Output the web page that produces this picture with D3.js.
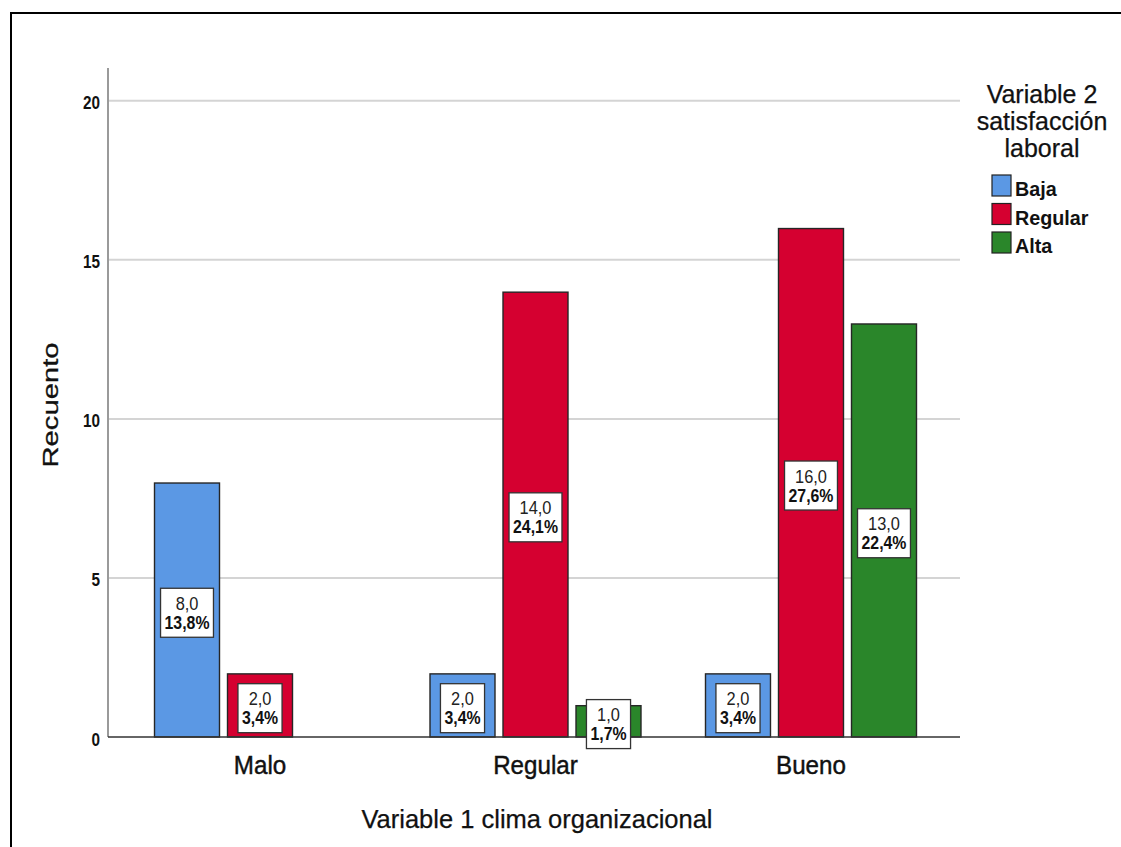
<!DOCTYPE html>
<html><head><meta charset="utf-8">
<script src="https://cdn.jsdelivr.net/npm/d3@7"></script>
<style>
body{margin:0;background:#fff;}
svg{display:block;}
text{font-family:"Liberation Sans",Arial,sans-serif;}
</style></head>
<body>
<svg id="c" width="1121" height="847"></svg>
<script>
const categories = ["Malo","Regular","Bueno"];
const series = ["Baja","Regular","Alta"];
const countsBaja    = [8, 2, 2];
const countsRegular = [2, 14, 16];
const countsAlta    = [0, 1, 13];
const pctBaja    = ["13,8%","3,4%","3,4%"];
const pctRegular = ["3,4%","24,1%","27,6%"];
const pctAlta    = ["","1,7%","22,4%"];
const yTicks = [0,5,10,15,20];
const colors = ["#5b98e4","#d50030","#2a862a"];
const legendTitle = ["Variable 2","satisfacción","laboral"];
const xTitle = "Variable 1 clima organizacional";
const yTitle = "Recuento";

const counts = {Baja:countsBaja, Regular:countsRegular, Alta:countsAlta};
const percents = {Baja:pctBaja, Regular:pctRegular, Alta:pctAlta};

// compress text horizontally by a factor
function squeeze(sel, f){
  sel.each(function(){
    const w = this.getComputedTextLength();
    d3.select(this).attr("textLength", w*f).attr("lengthAdjust","spacingAndGlyphs");
  });
}

const svg = d3.select("#c");
// outer frame
svg.append("rect").attr("x",11).attr("y",13).attr("width",1200).attr("height",1000)
  .attr("fill","none").attr("stroke","#000").attr("stroke-width",2);

const plotL = 108, plotR = 960;
const x0 = d3.scaleBand().domain(categories).range([plotL,963]).paddingInner(0.2305).paddingOuter(0.167);
const x1 = d3.scaleBand().domain(series).range([0,x0.bandwidth()]).paddingInner(0.096);
const y = d3.scaleLinear().domain([0,21]).range([737,69]);
const color = d3.scaleOrdinal().domain(series).range(colors);

// gridlines
svg.append("g").selectAll("line").data(yTicks.filter(d=>d>0)).join("line")
  .attr("x1",plotL).attr("x2",plotR).attr("y1",d=>y(d)).attr("y2",d=>y(d))
  .attr("stroke","#d4d4d4").attr("stroke-width",2);

// y axis
const yAxis = svg.append("g").attr("transform",`translate(${plotL},0)`)
  .call(d3.axisLeft(y).tickValues(yTicks).tickSize(0).tickPadding(8).tickFormat(d3.format("d")));
yAxis.select(".domain").remove();
yAxis.selectAll("text").attr("font-size",18).attr("font-weight","bold").attr("fill","#111")
  .attr("dy",null).attr("y",8);
squeeze(yAxis.selectAll("text"),0.85);
svg.append("line").attr("x1",plotL).attr("x2",plotL).attr("y1",68).attr("y2",737).attr("stroke","#9a9a9a").attr("stroke-width",2);

// bars
const data = [];
categories.forEach((c,i)=>series.forEach(s=>{
  data.push({cat:c,ser:s,v:counts[s][i],p:percents[s][i]});
}));
const bars = data.filter(d=>d.v>0);
svg.append("g").selectAll("rect").data(bars).join("rect")
  .attr("x",d=>x0(d.cat)+x1(d.ser)+0.5).attr("y",d=>y(d.v)+0.5)
  .attr("width",x1.bandwidth()-1).attr("height",d=>y(0)-y(d.v)-0.5)
  .attr("fill",d=>color(d.ser)).attr("stroke","#262626").attr("stroke-width",1.4);

// baseline
svg.append("line").attr("x1",plotL).attr("x2",plotR).attr("y1",y(0)).attr("y2",y(0)).attr("stroke","#333").attr("stroke-width",1.5);

// x axis labels
const xAxis = svg.append("g").attr("transform",`translate(0,${y(0)})`)
  .call(d3.axisBottom(x0).tickSize(0).tickPadding(0));
xAxis.select(".domain").remove();
xAxis.selectAll("text").attr("font-size",26).attr("fill","#111").attr("dy",null).attr("y",37)
  .attr("stroke","#111").attr("stroke-width",0.45);
squeeze(xAxis.selectAll("text"),0.93);

// value labels
const lab = svg.append("g").selectAll("g").data(bars).join("g")
  .attr("transform",d=>`translate(${x0(d.cat)+x1(d.ser)+x1.bandwidth()/2},${(y(d.v)+y(0))/2+3})`);
lab.each(function(d){
  const g = d3.select(this);
  const t1 = g.append("text").attr("text-anchor","middle").attr("y",-3)
    .attr("font-size",18).attr("fill","#222").text(d3.format(".1f")(d.v).replace(".",","));
  const t2 = g.append("text").attr("text-anchor","middle").attr("y",16)
    .attr("font-size",18).attr("font-weight","bold").attr("fill","#111").text(d.p);
  const w1 = t1.node().getComputedTextLength()*0.91, w2 = t2.node().getComputedTextLength()*0.88;
  squeeze(t1,0.91); squeeze(t2,0.88);
  const w = Math.max(w1, w2) + 8;
  g.insert("rect","text").attr("x",-w/2).attr("y",-24.5).attr("width",w).attr("height",49)
    .attr("fill","#fff").attr("stroke","#333").attr("stroke-width",1.3);
});

// axis titles
svg.append("text").attr("transform","translate(58,405) rotate(-90)")
  .attr("text-anchor","middle").attr("font-size",22).attr("fill","#111")
  .attr("stroke","#111").attr("stroke-width",0.3)
  .attr("textLength",125).attr("lengthAdjust","spacingAndGlyphs").text(yTitle);
svg.append("text").attr("x",537).attr("y",828)
  .attr("text-anchor","middle").attr("font-size",25.5).attr("fill","#111")
  .attr("stroke","#111").attr("stroke-width",0.25).text(xTitle);

// legend
const lg = svg.append("g");
lg.selectAll("text.t").data(legendTitle).join("text").attr("class","t")
  .attr("x",1042).attr("y",(d,i)=>103+i*27).attr("text-anchor","middle")
  .attr("font-size",25).attr("fill","#111").attr("stroke","#111").attr("stroke-width",0.25).text(d=>d);
const li = lg.selectAll("g.i").data(series).join("g").attr("class","i")
  .attr("transform",(d,i)=>`translate(992,${175+i*28.5})`);
li.append("rect").attr("width",19).attr("height",21).attr("fill",d=>color(d)).attr("stroke","#222").attr("stroke-width",1.2);
const lt = li.append("text").attr("x",23).attr("y",21).attr("font-size",21).attr("font-weight","bold").attr("fill","#111").text(d=>d);
squeeze(lt,0.94);
</script>
</body></html>
